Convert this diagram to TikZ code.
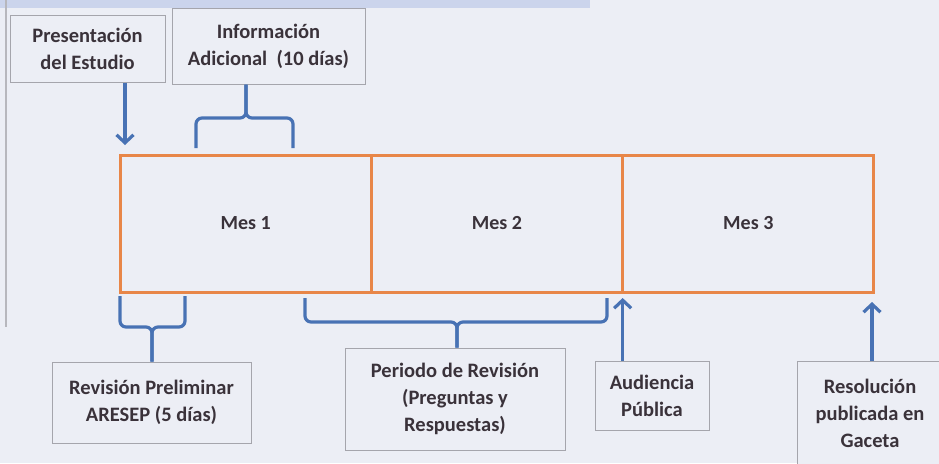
\documentclass[tikz,border=0pt]{standalone}
\usepackage{fontspec}
\setmainfont{Carlito}
\usetikzlibrary{calc,positioning,arrows.meta}
\definecolor{paper}{RGB}{236,238,245}
\definecolor{band}{RGB}{203,212,236}
\definecolor{cellline}{RGB}{232,134,72}
\definecolor{bracec}{RGB}{72,114,180}
\definecolor{boxline}{RGB}{165,165,172}
\definecolor{ink}{RGB}{58,50,58}

\begin{document}
\begin{tikzpicture}[x=1pt,y=-1pt,
    lbl/.style={draw=boxline,line width=1pt,fill=paper,text=ink,align=center,
      font=\bfseries\fontsize{20.5}{27}\selectfont,inner sep=0pt},
    cell/.style={minimum width=251.3pt,minimum height=137pt,outer sep=0pt,
      inner sep=0pt,text=ink,font=\bfseries\fontsize{20}{22}\selectfont},
    orange/.style={draw=cellline,line width=3pt},
    brace/.style={draw=bracec,line width=3.2pt,rounded corners=6pt},
    up/.style={draw=bracec,line width=3.2pt,-{Straight Barb[length=8pt,width=17pt,line width=3.2pt]}}]

    % page
    \fill[paper] (0,0) rectangle (939,463);
    \useasboundingbox (0,0) rectangle (939,463);
    \fill[band] (0,0) rectangle (590,8);
    \draw[boxline!80,line width=1.5pt] (6,0) -- (6,327);

    % months
    \node[cell] (mes1) at (245.7,223.5) {Mes 1};
    \node[cell,right=0pt of mes1] (mes2) {Mes 2};
    \node[cell,right=0pt of mes2] (mes3) {Mes 3};
    \draw[orange] (mes1.north west) rectangle (mes3.south east);
    \draw[orange] (mes1.north east) -- (mes1.south east);
    \draw[orange] (mes2.north east) -- (mes2.south east);

    % labels
    \node[lbl,minimum width=155pt,minimum height=67pt] (pres) at (87.5,48.5) {Presentación\\del Estudio};
    \node[lbl,minimum width=193pt,minimum height=76pt] (info) at (268.5,46) {Información\\Adicional~~(10 días)};
    \node[lbl,minimum width=199pt,minimum height=81pt] (prel) at (151.5,402.5) {Revisión Preliminar\\ARESEP (5 días)};
    \node[lbl,minimum width=220pt,minimum height=102pt] (peri) at (455,399) {Periodo de Revisión\\(Preguntas y\\Respuestas)};
    \node[lbl,minimum width=114pt,minimum height=69pt] (aud) at (652,395.5) {Audiencia\\Pública};
    \node[lbl,minimum width=146pt,minimum height=104pt] (res) at (870,413) {Resolución\\publicada en\\Gaceta};

    % arrows
    \coordinate (presT) at (125,145);
    \draw[up] (pres.south -| presT) -- (presT);
    \coordinate (audT) at ($(mes2.south east)+(0,6)$);
    \draw[up] (aud.north -| audT) -- (audT);
    \coordinate (resT) at (872,302);
    \draw[up] (res.north -| resT) -- (resT);

    % braces
    \coordinate (infoB) at (246,118);
    \draw[brace] (196,148) |- (infoB) -- (info.south -| infoB);
    \draw[brace] (293,148) |- (infoB) -- (info.south -| infoB);
    \coordinate (prelB) at (152,327);
    \draw[brace] (120,296) |- (prelB) -- (prel.north -| prelB);
    \draw[brace] (185,296) |- (prelB) -- (prel.north -| prelB);
    \coordinate (periB) at (457,322);
    \draw[brace] (305,298) |- (periB) -- (peri.north -| periB);
    \draw[brace] (607,298) |- (periB) -- (peri.north -| periB);
\end{tikzpicture}
\end{document}
